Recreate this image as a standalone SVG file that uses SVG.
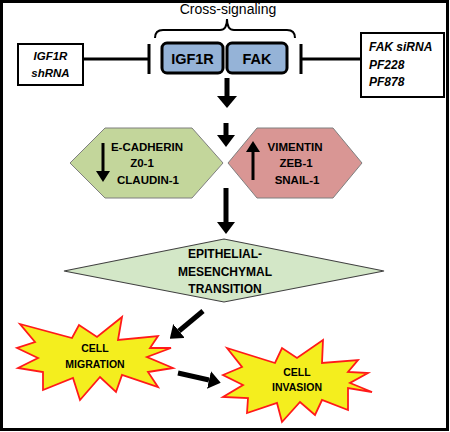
<svg xmlns="http://www.w3.org/2000/svg" width="450" height="432" viewBox="0 0 450 432">
<defs>
<style>
text{font-family:"Liberation Sans",Arial,sans-serif;fill:#000}
.b{font-weight:bold}
.lab{font-weight:bold;font-size:11.5px;text-anchor:middle}
.dl{font-weight:bold;font-size:12px;text-anchor:middle}
.sl{font-weight:bold;font-size:10.5px;text-anchor:middle}
.box{fill:#fff;stroke:#000;stroke-width:2}
.sig{fill:#95b3d7;stroke:#000;stroke-width:3}
.inh{stroke:#000;stroke-width:3;fill:none}
.arr{stroke:#000;stroke-width:5;fill:none;marker-end:url(#ah)}
.arrs{stroke:#000;stroke-width:3;fill:none;marker-end:url(#ahs)}
.star{fill:#f4ee1e;stroke:#ff1a1a;stroke-width:1.8;stroke-linejoin:miter}
</style>
<marker id="ah" viewBox="0 0 12 18" refX="0" refY="9" markerWidth="12" markerHeight="18" markerUnits="userSpaceOnUse" orient="auto"><path d="M0,0 L12,9 L0,18 z" fill="#000"/></marker>
<marker id="ahw" viewBox="0 0 12 20" refX="0" refY="10" markerWidth="12" markerHeight="20" markerUnits="userSpaceOnUse" orient="auto"><path d="M0,0 L12,10 L0,20 z" fill="#000"/></marker>
<marker id="ahs" viewBox="0 0 11 14" refX="0" refY="7" markerWidth="11" markerHeight="14" markerUnits="userSpaceOnUse" orient="auto"><path d="M0,0 L11,7 L0,14 z" fill="#000"/></marker>
</defs>
<rect x="1.5" y="1.5" width="446" height="428" fill="#fff" stroke="#000" stroke-width="3"/>

<g id="cross-signaling">
<text x="228" y="14" font-size="14" text-anchor="middle">Cross-signaling</text>
<path d="M155,38 Q155,30 163,30 L220,30 Q227,30 227,19 Q227,30 234,30 L287,30 Q295,30 295,38" fill="none" stroke="#000" stroke-width="2"/>
</g>

<g id="igf1r-shrna">
<rect class="box" x="18" y="44" width="65" height="41"/>
<text x="50.5" y="59.5" font-size="11.5" font-style="italic" text-anchor="middle" class="b">IGF1R</text>
<text x="50.5" y="76.5" font-size="11.5" font-style="italic" text-anchor="middle" class="b">shRNA</text>
</g>

<g id="fak-inhibitors">
<rect class="box" x="361" y="33" width="83" height="64"/>
<text x="369" y="51" font-size="12" font-style="italic" class="b">FAK siRNA</text>
<text x="369" y="69" font-size="12" font-style="italic" class="b">PF228</text>
<text x="369" y="86" font-size="12" font-style="italic" class="b">PF878</text>
</g>

<g id="igf1r">
<rect class="sig" x="162" y="43" width="61" height="30" rx="5"/>
<text x="192.5" y="63.5" font-size="14.5" text-anchor="middle" class="b">IGF1R</text>
</g>
<g id="fak">
<rect class="sig" x="227" y="43" width="60" height="30" rx="5"/>
<text x="257" y="63.5" font-size="14.5" text-anchor="middle" class="b">FAK</text>
</g>

<g id="epithelial-markers">
<polygon points="70,163 105,128 192,128 223,163 192,198 105,198" fill="#c3d69b" stroke="#7f7f7f" stroke-width="1"/>
<line class="arrs" x1="103" y1="143" x2="103" y2="171"/>
<text class="lab" x="147" y="151">E-CADHERIN</text>
<text class="lab" x="142" y="167">Z0-1</text>
<text class="lab" x="148" y="184">CLAUDIN-1</text>
</g>

<g id="mesenchymal-markers">
<polygon points="228,163 257,128 333,128 362,163 333,198 257,198" fill="#d99694" stroke="#7f7f7f" stroke-width="1"/>
<line class="arrs" x1="253" y1="180" x2="253" y2="152"/>
<text class="lab" x="295" y="151">VIMENTIN</text>
<text class="lab" x="296" y="167">ZEB-1</text>
<text class="lab" x="297" y="184">SNAIL-1</text>
</g>

<g id="emt">
<polygon points="64,271 224,239 384,271 224,302" fill="#d3e7c7" stroke="#404040" stroke-width="1.2"/>
<text class="dl" x="225" y="258">EPITHELIAL-</text>
<text class="dl" x="225" y="276">MESENCHYMAL</text>
<text class="dl" x="225" y="293">TRANSITION</text>
</g>

<g id="cell-migration">
<polygon class="star" points="20,324 72,338 79,325 97,337 122,317 118,340 158,336 150,348 171,348 147,357 173,368 148,372 158,387 122,375 116,392 100,377 80,400 73,378 43,390 43,372 18,368 38,358 17,348 35,342"/>
<text class="sl" x="95" y="352">CELL</text>
<text class="sl" x="95" y="368">MIGRATION</text>
</g>

<g id="cell-invasion">
<polygon class="star" points="227,348 275,363 282,348 297,358 323,340 322,363 358,360 348,372 368,373 350,383 372,392 348,388 348,410 322,400 315,415 300,402 282,422 277,403 247,413 248,398 223,397 243,385 223,375 242,367"/>
<text class="sl" x="297" y="376">CELL</text>
<text class="sl" x="297" y="391">INVASION</text>
</g>

<g id="connectors">
<path class="inh" d="M83,59 H149 M149,44 V74"/>
<path class="inh" d="M361,59 H301 M301,44 V74"/>
<line class="arr" x1="227" y1="78" x2="227" y2="96" style="marker-end:url(#ahw)"/>
<line class="arr" x1="226" y1="123" x2="226" y2="135"/>
<line class="arr" x1="226" y1="188" x2="226" y2="222"/>
<line class="arr" x1="203" y1="311" x2="179" y2="331"/>
<line class="arr" x1="178" y1="373" x2="209" y2="380"/>
</g>
</svg>
